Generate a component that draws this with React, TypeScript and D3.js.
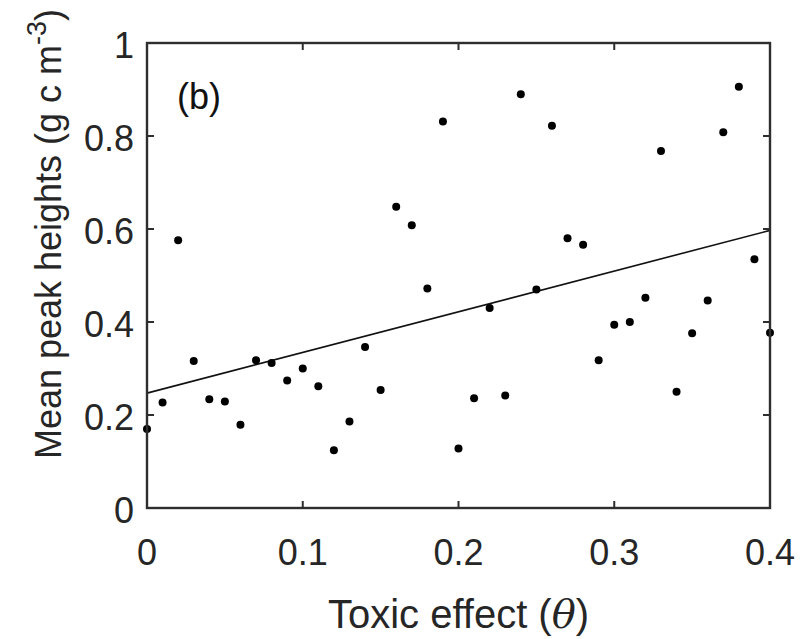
import React from "react";
import * as d3 from "d3";

const xValues = [0, 0.01, 0.02, 0.03, 0.04, 0.05, 0.06, 0.07, 0.08, 0.09, 0.1, 0.11, 0.12, 0.13, 0.14, 0.15, 0.16, 0.17, 0.18, 0.19, 0.2, 0.21, 0.22, 0.23, 0.24, 0.25, 0.26, 0.27, 0.28, 0.29, 0.3, 0.31, 0.32, 0.33, 0.34, 0.35, 0.36, 0.37, 0.38, 0.39, 0.4];
const yValues = [0.17, 0.227, 0.576, 0.316, 0.234, 0.229, 0.179, 0.318, 0.312, 0.274, 0.3, 0.262, 0.124, 0.186, 0.346, 0.254, 0.648, 0.608, 0.472, 0.831, 0.128, 0.236, 0.43, 0.242, 0.89, 0.47, 0.822, 0.58, 0.566, 0.318, 0.394, 0.4, 0.452, 0.768, 0.25, 0.376, 0.446, 0.808, 0.906, 0.535, 0.377];
const fitX = [0, 0.4];
const fitY = [0.247, 0.597];
const xTicks = [0, 0.1, 0.2, 0.3, 0.4];
const yTicks = [0, 0.2, 0.4, 0.6, 0.8, 1];
const xTickLabels = ["0", "0.1", "0.2", "0.3", "0.4"];
const yTickLabels = ["0", "0.2", "0.4", "0.6", "0.8", "1"];
const panelLabel = "(b)";

const W = 802, H = 639;
const L = 147, R = 770, T = 43, B = 508;
const axisColor = "#2e2e2e";
const font = "'Liberation Sans', Arial, Helvetica, sans-serif";

export default function App() {
  const x = d3.scaleLinear().domain([0, 0.4]).range([L, R]);
  const y = d3.scaleLinear().domain([0, 1]).range([B, T]);
  const line = d3.line<number>().x((_, i) => x(fitX[i])).y((d) => y(d));
  const tl = 7;
  return (
    <svg width={W} height={H} style={{ position: "absolute", left: 0, top: 0, background: "#fff" }} fontFamily={font}>
      <rect x={0} y={0} width={W} height={H} fill="#fff" />
      <path d={line(fitY) || ""} fill="none" stroke="#111" strokeWidth={1.6} />
      {xValues.map((xv, i) => (
        <circle key={i} cx={x(xv)} cy={y(yValues[i])} r={4} fill="#000" />
      ))}
      <rect x={L} y={T} width={R - L} height={B - T} fill="none" stroke={axisColor} strokeWidth={2.4} />
      {xTicks.map((t, i) => (
        <g key={"xt" + i}>
          <line x1={x(t)} x2={x(t)} y1={B} y2={B - tl} stroke={axisColor} strokeWidth={2} />
          <line x1={x(t)} x2={x(t)} y1={T} y2={T + tl} stroke={axisColor} strokeWidth={2} />
          <text x={x(t)} y={565} textAnchor="middle" fontSize={36} fill="#262626">{xTickLabels[i]}</text>
        </g>
      ))}
      {yTicks.map((t, i) => (
        <g key={"yt" + i}>
          <line x1={L} x2={L + tl} y1={y(t)} y2={y(t)} stroke={axisColor} strokeWidth={2} />
          <line x1={R} x2={R - tl} y1={y(t)} y2={y(t)} stroke={axisColor} strokeWidth={2} />
          <text x={134} y={y(t) + 15} textAnchor="end" fontSize={36} fill="#262626">{yTickLabels[i]}</text>
        </g>
      ))}
      <text x={177} y={109} fontSize={36} fill="#111">{panelLabel}</text>
      <text x={(L + R) / 2} y={628} textAnchor="middle" fontSize={40} fill="#262626">
        Toxic effect (<tspan fontStyle="italic" fontFamily="'DejaVu Serif', 'Liberation Serif', serif">θ</tspan>)
      </text>
      <text transform={`translate(61,234) rotate(-90)`} textAnchor="middle" fontSize={36} fill="#262626">
        Mean peak heights (g c m<tspan dy={-15} fontSize={27}>-3</tspan><tspan dy={15}>)</tspan>
      </text>
    </svg>
  );
}
